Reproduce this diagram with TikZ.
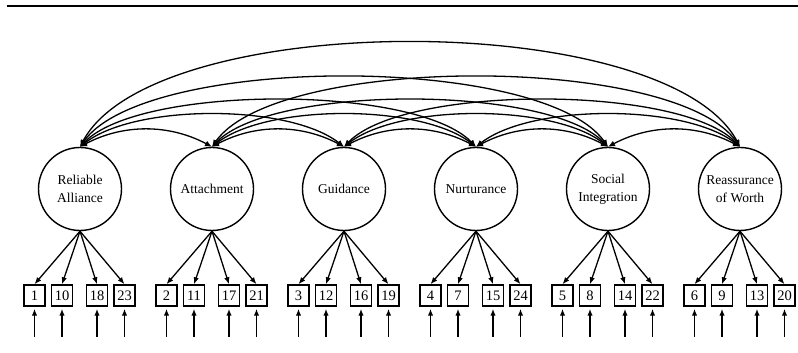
\documentclass[tikz,border=0pt]{standalone}
\usepackage{fontspec}
\setmainfont{Liberation Serif}
\usetikzlibrary{calc,arrows.meta}

\tikzset{
    factor/.style={draw, circle, line width=1.4pt, minimum size=83pt, inner sep=0pt, align=center, font=\fontsize{13.5}{18}\selectfont},
    item/.style={draw, line width=1.5pt, minimum size=21pt, inner sep=0pt, font=\fontsize{14.5}{14.5}\selectfont},
    load/.style={-{Latex[length=7pt,width=5.5pt]}, line width=1.3pt},
    err/.style={-{Latex[length=7pt,width=5.5pt]}, line width=1.8pt},
    cov/.style={{Latex[length=7pt,width=6pt]}-{Latex[length=7pt,width=6pt]}, line width=1.3pt}
}

\begin{document}
\begin{tikzpicture}[x=1pt, y=1pt]
    \useasboundingbox (0,0) rectangle (798,353);
    \draw[line width=2.6pt] (7,347) -- (798,347);
    % factors
    \node[factor] at (80, 164) (ra) {Reliable\\Alliance};
    \node[factor] at (212, 164) (att) {Attachment};
    \node[factor] at (344, 164) (gui) {Guidance};
    \node[factor] at (476, 164) (nur) {Nurturance};
    \node[factor] at (608, 164) (soc) {Social\\Integration};
    \node[factor] at (740, 164) (rw) {Reassurance\\of Worth};
    % items
    \foreach \f/\a/\b/\c/\d in {ra/1/10/18/23, att/2/11/17/21, gui/3/12/16/19, nur/4/7/15/24, soc/5/8/14/22, rw/6/9/13/20} {
        \node[item] at ($(\f.center)+(-45.5,-106.5)$) (b\a) {\a};
        \node[item] at ($(\f.center)+(-18,-106.5)$) (b\b) {\b};
        \node[item] at ($(\f.center)+(17,-106.5)$) (b\c) {\c};
        \node[item] at ($(\f.center)+(44.5,-106.5)$) (b\d) {\d};
        \foreach \i in {\a,\b,\c,\d} {
            \coordinate (e\i) at ($(b\i.south)+(0,-30)$);
            \draw[load] (\f.south) -- (b\i.north);
            \draw[err] (e\i) -- ($(b\i.south)+(0,-2)$);
        }
    }
    % covariances
    \draw[cov] (ra.north) to[out=28, in=152, looseness=0.95] (att.north);
    \draw[cov] (att.north) to[out=28, in=152, looseness=0.95] (gui.north);
    \draw[cov] (gui.north) to[out=28, in=152, looseness=0.95] (nur.north);
    \draw[cov] (nur.north) to[out=28, in=152, looseness=0.95] (soc.north);
    \draw[cov] (soc.north) to[out=28, in=152, looseness=0.95] (rw.north);
    \draw[cov] (ra.north) to[out=38, in=142, looseness=0.68] (gui.north);
    \draw[cov] (att.north) to[out=38, in=142, looseness=0.68] (nur.north);
    \draw[cov] (gui.north) to[out=38, in=142, looseness=0.68] (soc.north);
    \draw[cov] (nur.north) to[out=38, in=142, looseness=0.68] (rw.north);
    \draw[cov] (ra.north) to[out=46, in=134, looseness=0.56] (nur.north);
    \draw[cov] (att.north) to[out=46, in=134, looseness=0.56] (soc.north);
    \draw[cov] (gui.north) to[out=46, in=134, looseness=0.56] (rw.north);
    \draw[cov] (ra.north) to[out=55, in=125, looseness=0.55] (soc.north);
    \draw[cov] (att.north) to[out=55, in=125, looseness=0.55] (rw.north);
    \draw[cov] (ra.north) to[out=62, in=118, looseness=0.61] (rw.north);
\end{tikzpicture}
\end{document}
